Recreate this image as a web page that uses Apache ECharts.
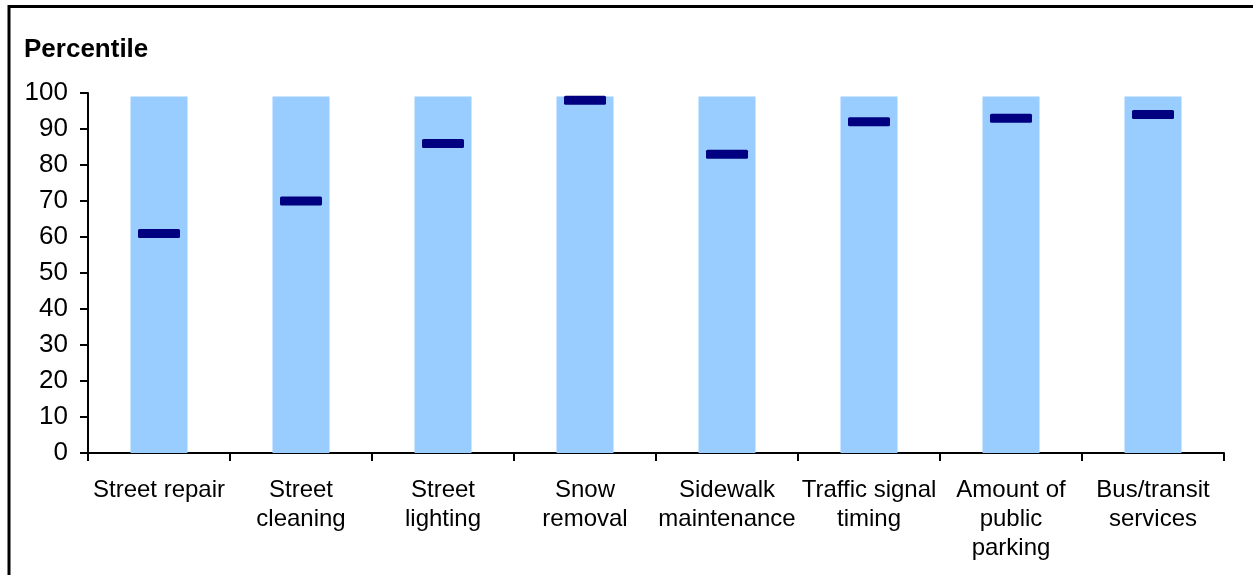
<!DOCTYPE html>
<html>
<head>
<meta charset="utf-8">
<script src="https://cdn.jsdelivr.net/npm/echarts@6/dist/echarts.min.js"></script>
<style>
html,body{margin:0;padding:0;background:#fff;}
#chart{width:1253px;height:575px;}
</style>
</head>
<body>
<div id="chart"></div>
<script>
const categories = ["Street repair", "Street\ncleaning", "Street\nlighting", "Snow\nremoval", "Sidewalk\nmaintenance", "Traffic signal\ntiming", "Amount of\npublic\nparking", "Bus/transit\nservices"];
const rangeTop = [99, 99, 99, 99, 99, 99, 99, 99];
const percentile = [61, 70, 86, 98, 83, 92, 93, 94];
const yTicks = [0, 10, 20, 30, 40, 50, 60, 70, 80, 90, 100];

const chart = echarts.init(document.getElementById('chart'));
const font = 'Liberation Sans, Arial, sans-serif';
chart.setOption({
  animation: false,
  backgroundColor: '#fff',
  graphic: [
    { type: 'rect', shape: { x: 9, y: 6.5, width: 1400, height: 800 }, style: { fill: 'none', stroke: '#000', lineWidth: 3 }, silent: true },
    { type: 'text', left: 24, top: 37, style: { text: 'Percentile', font: 'bold 26px ' + font, fill: '#000' } }
  ],
  grid: { left: 88, right: 29, top: 93, bottom: 122 },
  xAxis: {
    type: 'category',
    data: categories,
    boundaryGap: true,
    axisLine: { lineStyle: { color: '#000', width: 2 } },
    axisTick: { show: true, length: 8, lineStyle: { color: '#000', width: 2 } },
    axisLabel: { color: '#000', fontSize: 24, fontFamily: font, lineHeight: 29, margin: 23, interval: 0 },
    splitLine: { show: false }
  },
  yAxis: {
    type: 'value',
    min: yTicks[0],
    max: yTicks[yTicks.length - 1],
    interval: yTicks[1] - yTicks[0],
    axisLine: { show: true, lineStyle: { color: '#000', width: 2 } },
    axisTick: { show: true, length: 8, lineStyle: { color: '#000', width: 2 } },
    axisLabel: { color: '#000', fontSize: 26, fontFamily: font, margin: 20 },
    splitLine: { show: false }
  },
  series: [
    {
      type: 'bar',
      data: rangeTop,
      barWidth: 57,
      itemStyle: { color: '#99CCFF' },
      silent: true
    },
    {
      type: 'scatter',
      data: percentile,
      symbol: 'path://M1.5,0H40.5A1.5,1.5 0 0 1 42,1.5V7.5A1.5,1.5 0 0 1 40.5,9H1.5A1.5,1.5 0 0 1 0,7.5V1.5A1.5,1.5 0 0 1 1.5,0Z',
      symbolSize: [42, 9],
      symbolKeepAspect: false,
      itemStyle: { color: '#000080', opacity: 1 },
      z: 5,
      silent: true
    }
  ]
});
</script>
</body>
</html>
